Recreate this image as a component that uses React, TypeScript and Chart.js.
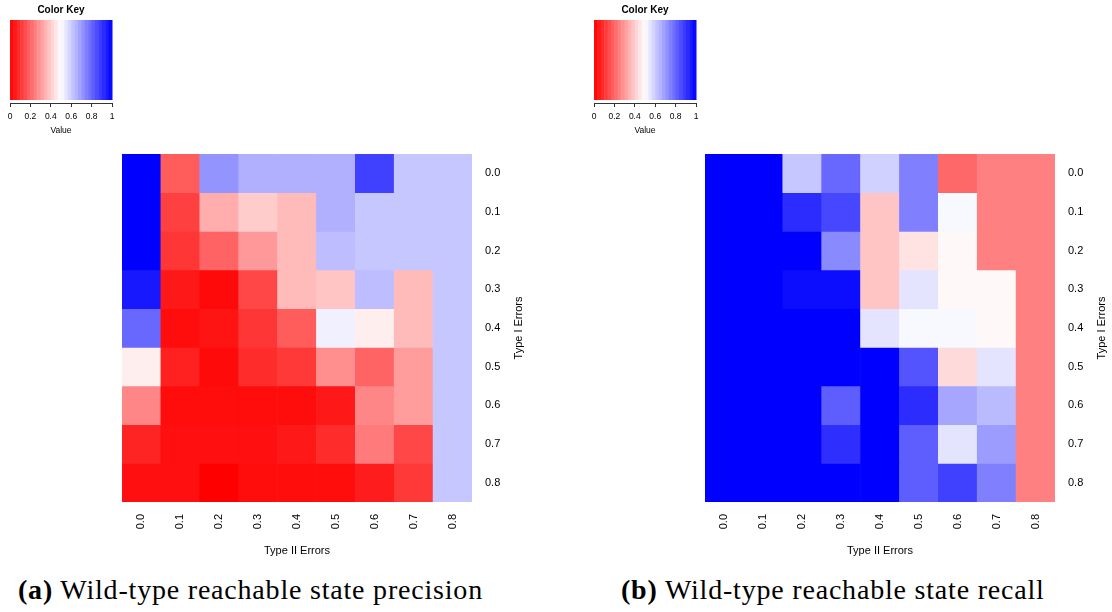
import React, { useEffect, useRef } from 'react';
import { Chart, registerables } from 'chart.js';

Chart.register(...registerables);

// ---- data ----
const colLabels = ['0.0', '0.1', '0.2', '0.3', '0.4', '0.5', '0.6', '0.7', '0.8']; // Type II Errors
const rowLabels = ['0.0', '0.1', '0.2', '0.3', '0.4', '0.5', '0.6', '0.7', '0.8']; // Type I Errors
const keyTicks = [0, 0.2, 0.4, 0.6, 0.8, 1];

// rows: Type I error 0.0 .. 0.8 ; columns: Type II error 0.0 .. 0.8
const precision: number[][] = [
  [1.0, 0.18, 0.71, 0.655, 0.655, 0.655, 0.875, 0.61, 0.61],
  [1.0, 0.125, 0.34, 0.40, 0.365, 0.655, 0.61, 0.61, 0.61],
  [1.0, 0.105, 0.195, 0.30, 0.365, 0.63, 0.61, 0.61, 0.61],
  [0.953, 0.047, 0.02, 0.14, 0.365, 0.385, 0.63, 0.365, 0.61],
  [0.796, 0.024, 0.04, 0.105, 0.18, 0.53, 0.467, 0.365, 0.61],
  [0.467, 0.063, 0.02, 0.086, 0.11, 0.28, 0.196, 0.306, 0.61],
  [0.263, 0.024, 0.024, 0.024, 0.024, 0.047, 0.263, 0.306, 0.61],
  [0.07, 0.03, 0.03, 0.03, 0.047, 0.086, 0.24, 0.14, 0.61],
  [0.03, 0.03, 0.0, 0.024, 0.024, 0.024, 0.055, 0.11, 0.61],
];

const recall: number[][] = [
  [1.0, 1.0, 0.61, 0.796, 0.59, 0.75, 0.204, 0.25, 0.25],
  [1.0, 1.0, 0.914, 0.86, 0.385, 0.75, 0.514, 0.25, 0.25],
  [1.0, 1.0, 1.0, 0.73, 0.385, 0.443, 0.486, 0.25, 0.25],
  [1.0, 1.0, 0.976, 0.976, 0.385, 0.553, 0.486, 0.486, 0.25],
  [1.0, 1.0, 1.0, 1.0, 0.553, 0.514, 0.514, 0.486, 0.25],
  [1.0, 1.0, 1.0, 1.0, 1.0, 0.835, 0.427, 0.553, 0.25],
  [1.0, 1.0, 1.0, 0.816, 1.0, 0.914, 0.675, 0.635, 0.25],
  [1.0, 1.0, 1.0, 0.91, 1.0, 0.816, 0.553, 0.694, 0.25],
  [1.0, 1.0, 1.0, 1.0, 1.0, 0.816, 0.875, 0.75, 0.25],
];

const KEY_STEPS = 30;
const FONT = "'Liberation Sans', Arial, Helvetica, sans-serif";

function valColor(v: number): string {
  if (v < 0.5) {
    const g = Math.round(510 * v);
    return `rgb(255,${g},${g})`;
  }
  const r = Math.round(510 * (1 - v));
  return `rgb(${r},${r},255)`;
}

const axisTitlePlugin = {
  id: 'axisTitles',
  afterDraw(chart: any) {
    const { ctx, chartArea: a } = chart;
    ctx.save();
    ctx.fillStyle = '#000';
    ctx.font = `11px ${FONT}`;
    ctx.textAlign = 'center';
    ctx.textBaseline = 'middle';
    ctx.fillText('Type II Errors', (a.left + a.right) / 2, a.bottom + 49);
    ctx.translate(a.right + 47, (a.top + a.bottom) / 2);
    ctx.rotate(-Math.PI / 2);
    ctx.fillText('Type I Errors', 0, 0);
    ctx.restore();
  },
};

function Heatmap({ values, left, top }: { values: number[][]; left: number; top: number }) {
  const ref = useRef<HTMLCanvasElement | null>(null);
  useEffect(() => {
    if (!ref.current) return;
    const chart = new Chart(ref.current, {
      type: 'bar',
      data: {
        labels: colLabels,
        datasets: values.map((row, r) => ({
          label: rowLabels[r],
          data: row.map(() => [r, r + 1]),
          backgroundColor: row.map(valColor),
          borderWidth: 0,
          grouped: false,
          barPercentage: 1,
          categoryPercentage: 1,
        })),
      } as any,
      options: {
        responsive: false,
        animation: false,
        layout: { padding: 0 },
        plugins: { legend: { display: false }, tooltip: { enabled: false } },
        scales: {
          x: {
            type: 'category',
            position: 'bottom',
            offset: true,
            grid: { display: false, drawTicks: false },
            border: { display: false },
            ticks: {
              autoSkip: false,
              maxRotation: 90,
              minRotation: 90,
              padding: 12,
              color: '#000',
              font: { family: FONT, size: 11 },
            },
            afterFit: (s: any) => {
              s.height = 65;
              s.paddingLeft = 0;
              s.paddingRight = 0;
            },
          },
          y: {
            type: 'linear',
            position: 'right',
            min: 0,
            max: rowLabels.length,
            reverse: true,
            grid: { display: false, drawTicks: false },
            border: { display: false },
            afterBuildTicks: (s: any) => {
              s.ticks = rowLabels.map((_, i) => ({ value: i + 0.5 }));
            },
            ticks: {
              padding: 13,
              color: '#000',
              font: { family: FONT, size: 11 },
              callback: (_v: any, i: number) => rowLabels[i],
            },
            afterFit: (s: any) => {
              s.width = 60;
              s.paddingTop = 0;
              s.paddingBottom = 0;
            },
          },
        },
      } as any,
      plugins: [axisTitlePlugin],
    });
    return () => chart.destroy();
  }, [values]);
  return (
    <canvas
      ref={ref}
      width={410}
      height={413}
      style={{ position: 'absolute', left, top, width: 410, height: 413 }}
    />
  );
}

const keyPlugin = {
  id: 'colorKey',
  beforeDatasetsDraw(chart: any) {
    const { ctx, chartArea: a } = chart;
    const xs = chart.scales.x;
    ctx.save();
    for (let i = 0; i < KEY_STEPS; i++) {
      const x0 = xs.getPixelForValue(i / KEY_STEPS);
      const x1 = xs.getPixelForValue((i + 1) / KEY_STEPS);
      ctx.fillStyle = valColor((i + 0.5) / KEY_STEPS);
      ctx.fillRect(x0, a.top, x1 - x0 + 0.5, a.bottom - a.top - 3);
    }
    ctx.fillStyle = '#000';
    ctx.textAlign = 'center';
    ctx.textBaseline = 'middle';
    ctx.font = `bold 10px ${FONT}`;
    ctx.fillText('Color Key', (a.left + a.right) / 2, 10);
    ctx.font = `8.5px ${FONT}`;
    ctx.fillText('Value', (a.left + a.right) / 2, a.bottom + 28);
    ctx.restore();
  },
};

function ColorKey({ left, top }: { left: number; top: number }) {
  const ref = useRef<HTMLCanvasElement | null>(null);
  useEffect(() => {
    if (!ref.current) return;
    const chart = new Chart(ref.current, {
      type: 'scatter',
      data: { datasets: [{ data: [] }] },
      options: {
        responsive: false,
        animation: false,
        layout: { padding: { left: 10, right: 10, top: 20, bottom: 0 } },
        plugins: { legend: { display: false }, tooltip: { enabled: false } },
        scales: {
          x: {
            type: 'linear',
            min: 0,
            max: 1,
            afterBuildTicks: (s: any) => {
              s.ticks = keyTicks.map((v) => ({ value: v }));
            },
            grid: { display: true, drawOnChartArea: false, drawTicks: true, tickLength: 4, color: '#333' },
            border: { display: true, color: '#333', width: 1 },
            ticks: {
              padding: 5,
              color: '#000',
              font: { family: FONT, size: 8.5 },
              callback: (v: any) => (v === 0 || v === 1 ? String(v) : Number(v).toFixed(1)),
            },
            afterFit: (s: any) => {
              s.height = 37;
              s.paddingLeft = 0;
              s.paddingRight = 0;
            },
          },
          y: { display: false, min: 0, max: 1 },
        },
      } as any,
      plugins: [keyPlugin],
    });
    return () => chart.destroy();
  }, []);
  return (
    <canvas
      ref={ref}
      width={122}
      height={140}
      style={{ position: 'absolute', left, top, width: 122, height: 140 }}
    />
  );
}

const captionStyle: React.CSSProperties = {
  position: 'absolute',
  top: 576,
  fontFamily: "'Liberation Serif', 'DejaVu Serif', serif",
  fontSize: 28,
  lineHeight: '28px',
  letterSpacing: '0.8px',
  whiteSpace: 'nowrap',
  color: '#000',
};

export default function App() {
  return (
    <div
      style={{
        position: 'fixed',
        left: 0,
        top: 0,
        width: 1112,
        height: 612,
        background: '#fff',
        overflow: 'hidden',
      }}
    >
      <ColorKey left={0} top={0} />
      <ColorKey left={584} top={0} />
      <Heatmap values={precision} left={122} top={154} />
      <Heatmap values={recall} left={705} top={154} />
      <div style={{ ...captionStyle, left: 18 }}>
        <b>(a)</b> Wild-type reachable state precision
      </div>
      <div style={{ ...captionStyle, left: 621 }}>
        <b>(b)</b> Wild-type reachable state recall
      </div>
    </div>
  );
}
